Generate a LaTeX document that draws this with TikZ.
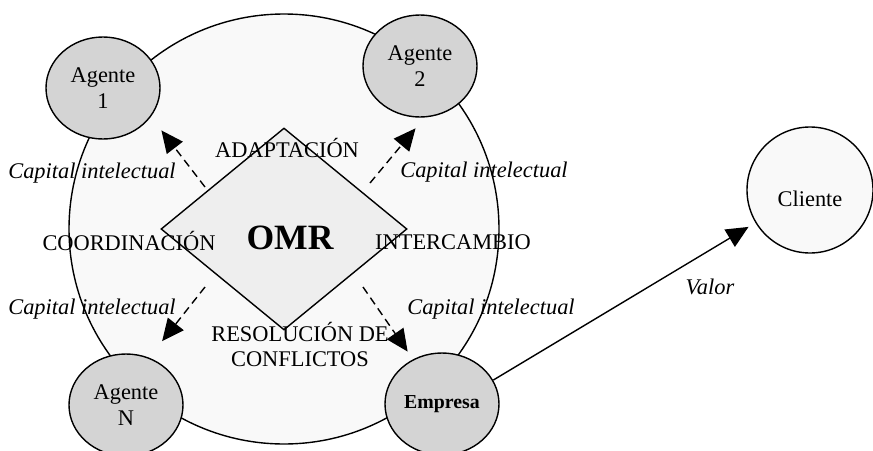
\documentclass[tikz,border=0pt]{standalone}
\usepackage{fontspec}
\setmainfont{Liberation Serif}
\usetikzlibrary{shapes.geometric,arrows.meta}
\definecolor{agente}{RGB}{212,212,212}
\definecolor{fondo}{RGB}{249,249,249}
\definecolor{rombo}{RGB}{238,238,238}

\begin{document}
\begin{tikzpicture}[x=0.5pt,y=-0.5pt,
    every node/.style={font=\fontsize{11.2}{13}\selectfont},
    agentenodo/.style={ellipse,draw,line width=0.7pt,fill=agente,minimum width=57pt,minimum height=51pt,inner sep=0pt,align=center},
    capital/.style={font=\fontsize{11.2}{13}\selectfont\itshape},
    punta/.style={-{Triangle[length=11pt,width=10pt]}},
    flujo/.style={dash pattern=on 4pt off 2.5pt,line width=0.7pt,punta}]
    \useasboundingbox (0,0) rectangle (873,450);

    % organizacion y OMR
    \node[circle,draw,line width=0.7pt,fill=fondo,minimum size=215pt] (org) at (284,229) {};
    \node[diamond,draw,line width=0.7pt,fill=rombo,minimum width=123pt,minimum height=101pt,inner sep=0pt] (omr) at (284,229) {};
    \node[font=\fontsize{17.8}{20}\selectfont\bfseries] (omrtxt) at (290,238) {OMR};

    \node (adap) at (287,148) {ADAPTACIÓN};
    \node (coord) at (129,241) {COORDINACIÓN};
    \node (inter) at (453,242) {INTERCAMBIO};
    \node[align=center,font=\fontsize{11.2}{12.5}\selectfont] (resol) at (300,344) {RESOLUCIÓN DE\\CONFLICTOS};

    % agentes
    \node[agentenodo] (ag1) at (103,88) {Agente\\1};
    \node[agentenodo] (ag2) at (420,66) {Agente\\2};
    \node[agentenodo] (agN) at (126,405) {Agente\\N};
    \node[agentenodo,font=\fontsize{9.9}{12}\selectfont\bfseries] (emp) at (442,404) {Empresa};
    \node[circle,draw,line width=0.7pt,fill=fondo,minimum size=63pt,inner sep=0pt,text height=16pt,text depth=0pt] (cli) at (810,190) {Cliente};

    % flujos de capital intelectual
    \coordinate (s1) at (205,187);
    \coordinate (s2) at (370,183);
    \coordinate (sN) at (205,287);
    \coordinate (sE) at (363,287);
    \draw[flujo,shorten >=8.6pt] (s1) -- (ag1.-31);
    \draw[flujo,shorten >=7pt] (s2) -- (ag2.-85);
    \draw[flujo,shorten >=10.5pt] (sN) -- (agN.64);
    \draw[flujo,shorten >=4.7pt] (sE) -- (emp.123);
    \draw[line width=0.7pt,punta,shorten >=4pt] (emp.25) -- (cli);

    \node[capital] (cap1) at (92,173) {Capital intelectual};
    \node[capital] (cap2) at (484,172) {Capital intelectual};
    \node[capital] (capN) at (92,309) {Capital intelectual};
    \node[capital] (capE) at (491,309) {Capital intelectual};
    \node[capital] (valor) at (710,287) {Valor};
\end{tikzpicture}
\end{document}
